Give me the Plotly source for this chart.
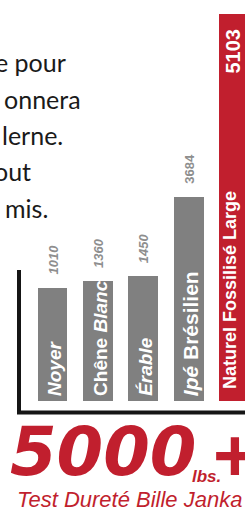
import plotly.graph_objects as go

# ---------------- data ----------------
categories = ["Noyer", "Chêne Blanc", "Érable", "Ipé Brésilien", "Naturel Fossilisé Large"]
hardness_lbs = [1010, 1360, 1450, 3684, 5103]
# drawn bar heights (infographic uses a non-linear visual scale)
bar_heights = [113, 120, 125, 204, 387]
bar_label_html = ["<i>Noyer</i>", "Chêne <i>Blanc</i>", "<i>Érable</i>",
                  "<i>Ipé</i> Brésilien", "Naturel Fossilisé Large"]
value_italic = [True, True, True, False, False]
paragraph_lines = ["e pour", "onnera", "lerne.", "out", "mis."]
headline_number = "5000"
headline_unit = "lbs."
headline_suffix = "+"
caption = "Test Dureté Bille Janka"

# ---------------- style / layout ----------------
W, H = 245, 510
GRAY = "#808080"
RED = "#c11f2e"
NUM_GRAY = "#8e8e8e"
BASE_PX = 401          # pixel row of bar bottoms
CAT0_PX = 52.5         # pixel centre of first bar
CAT_STEP = 45.4        # pixels between bar centres

def px(xp):
    return xp / W

def py(yp):
    return 1 - yp / H

n = len(categories)
colors = [RED if i == n - 1 else GRAY for i in range(n)]

fig = go.Figure(go.Bar(
    x=categories, y=bar_heights, width=0.66,
    marker=dict(color=colors, line=dict(width=0)),
    hoverinfo="skip",
))

fig.update_xaxes(range=[-CAT0_PX / CAT_STEP, (W - CAT0_PX) / CAT_STEP],
                 visible=False, fixedrange=True)
fig.update_yaxes(range=[-(H - BASE_PX), BASE_PX], visible=False, fixedrange=True)

ann = []

# paragraph fragment (cropped on the left)
para_right = [68, 83, 65, 33, 50]
para_mid = [62, 99, 135, 171, 208]
for t, xr, ym in zip(paragraph_lines, para_right, para_mid):
    ann.append(dict(text=t, xref="paper", yref="paper", x=px(xr), y=py(ym),
                    xanchor="right", yanchor="middle", showarrow=False,
                    font=dict(family="Lato, Open Sans, sans-serif", size=25, color="#1a1a1a")))

# value labels
for i, (c, h, v) in enumerate(zip(categories, bar_heights, hardness_lbs)):
    if i == n - 1:
        ann.append(dict(text=f"<b>{v}</b>", x=c, y=h, xref="x", yref="y",
                        xanchor="center", yanchor="top", yshift=-13, xshift=-2,
                        textangle=-90, showarrow=False,
                        font=dict(family="Liberation Sans, Arial, sans-serif", size=20, color="white")))
    else:
        txt = f"<b><i>{v}</i></b>" if value_italic[i] else f"<b>{v}</b>"
        ann.append(dict(text=txt, x=c, y=h, xref="x", yref="y",
                        xanchor="center", yanchor="bottom", yshift=11,
                        textangle=-90, showarrow=False,
                        font=dict(family="Liberation Sans, Arial, sans-serif", size=13, color=NUM_GRAY)))

# category labels inside bars
label_sizes = [19, 19, 19, 21, 18]
for i, (c, lab) in enumerate(zip(categories, bar_label_html)):
    big = i == n - 1
    ann.append(dict(text=f"<b>{lab}</b>", x=c, y=0, xref="x", yref="y",
                    xanchor="center", yanchor="bottom", yshift=10 if big else 3,
                    xshift=-4 if big else 2,
                    textangle=-90, showarrow=False,
                    font=dict(family="Liberation Sans, Arial, sans-serif",
                              size=label_sizes[i], color="white")))

# headline
ann.append(dict(text=f"<b><i>{headline_number}</i></b>", xref="paper", yref="paper",
                x=px(8), y=py(452), xanchor="left", yanchor="middle", showarrow=False,
                font=dict(family="DejaVu Sans, sans-serif", size=67, color=RED)))
ann.append(dict(text=f"<b><i>{headline_unit}</i></b>", xref="paper", yref="paper",
                x=px(190), y=py(476), xanchor="left", yanchor="middle", showarrow=False,
                font=dict(family="Liberation Sans, Arial, sans-serif", size=17, color=RED)))
ann.append(dict(text=f"<b>{headline_suffix}</b>", xref="paper", yref="paper",
                x=px(235), y=py(455), xanchor="center", yanchor="middle", showarrow=False,
                font=dict(family="Liberation Sans, Arial, sans-serif", size=75, color=RED)))
ann.append(dict(text=f"<i>{caption}</i>", xref="paper", yref="paper",
                x=px(15), y=py(499), xanchor="left", yanchor="middle", showarrow=False,
                font=dict(family="Liberation Sans, Arial, sans-serif", size=22, color=RED)))

shapes = [
    dict(type="line", xref="paper", yref="paper", x0=px(19), x1=px(19), y0=py(270), y1=py(414),
         line=dict(color="#151515", width=4)),
    dict(type="line", xref="paper", yref="paper", x0=px(17), x1=px(252), y0=py(412.5), y1=py(412.5),
         line=dict(color="#151515", width=4)),
]

fig.update_layout(width=W, height=H, margin=dict(l=0, r=0, t=0, b=0),
                  paper_bgcolor="white", plot_bgcolor="white", showlegend=False,
                  annotations=ann, shapes=shapes, bargap=0)

fig.write_html("out.html", config={"displayModeBar": False},
               post_script="document.body.style.margin='0px';document.body.style.overflow='hidden';")
